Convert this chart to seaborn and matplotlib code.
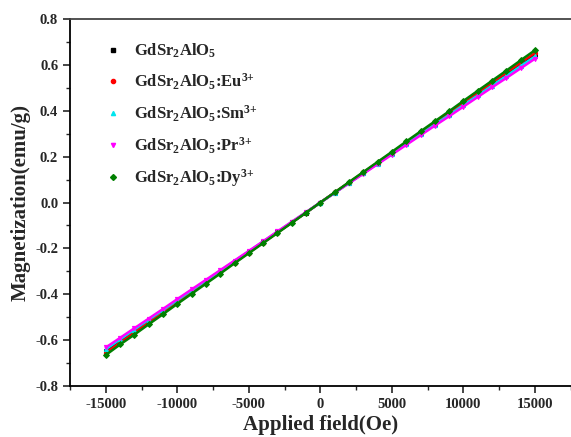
import matplotlib
matplotlib.use("Agg")
import matplotlib.pyplot as plt
import seaborn as sns
import pandas as pd
from matplotlib.lines import Line2D
from matplotlib.ticker import MultipleLocator

sns.set_theme(style="ticks")
plt.rcParams['font.family'] = ['Liberation Serif', 'DejaVu Serif']
plt.rcParams['font.weight'] = 'bold'
plt.rcParams['mathtext.fontset'] = 'custom'
plt.rcParams['mathtext.rm'] = 'Liberation Serif:bold'
plt.rcParams['mathtext.bf'] = 'Liberation Serif:bold'
plt.rcParams['mathtext.default'] = 'rm'
plt.rcParams['axes.unicode_minus'] = False

field = [-15000, -14000, -13000, -12000, -11000, -10000, -9000, -8000, -7000, -6000,
         -5000, -4000, -3000, -2000, -1000, 0, 1000, 2000, 3000, 4000, 5000, 6000,
         7000, 8000, 9000, 10000, 11000, 12000, 13000, 14000, 15000]

m_undoped = [-0.648, -0.604, -0.561, -0.517, -0.474, -0.431, -0.388, -0.345, -0.302, -0.259,
             -0.216, -0.173, -0.130, -0.087, -0.044, 0.000, 0.043, 0.086, 0.129, 0.172,
             0.215, 0.258, 0.301, 0.344, 0.387, 0.430, 0.473, 0.516, 0.559, 0.602, 0.645]
m_eu = [-0.655, -0.611, -0.567, -0.523, -0.480, -0.436, -0.392, -0.349, -0.305, -0.262,
        -0.218, -0.175, -0.131, -0.087, -0.044, 0.000, 0.044, 0.087, 0.131, 0.174,
        0.218, 0.261, 0.305, 0.348, 0.392, 0.435, 0.479, 0.522, 0.566, 0.609, 0.652]
m_sm = [-0.640, -0.597, -0.554, -0.511, -0.469, -0.426, -0.383, -0.341, -0.298, -0.255,
        -0.213, -0.170, -0.128, -0.085, -0.043, 0.000, 0.042, 0.085, 0.127, 0.170,
        0.212, 0.255, 0.297, 0.340, 0.382, 0.425, 0.467, 0.510, 0.552, 0.595, 0.637]
m_pr = [-0.632, -0.590, -0.548, -0.506, -0.464, -0.421, -0.379, -0.337, -0.295, -0.253,
        -0.211, -0.169, -0.126, -0.084, -0.042, 0.000, 0.042, 0.084, 0.125, 0.167,
        0.209, 0.251, 0.293, 0.335, 0.376, 0.418, 0.460, 0.502, 0.543, 0.585, 0.627]
m_dy = [-0.665, -0.619, -0.576, -0.531, -0.487, -0.442, -0.398, -0.354, -0.310, -0.265,
        -0.221, -0.177, -0.133, -0.089, -0.044, 0.000, 0.044, 0.089, 0.133, 0.177,
        0.221, 0.266, 0.310, 0.354, 0.398, 0.443, 0.487, 0.531, 0.575, 0.620, 0.664]

labels = [r'GdSr$_2$AlO$_5$', r'GdSr$_2$AlO$_5$:Eu$^{3{+}}$', r'GdSr$_2$AlO$_5$:Sm$^{3{+}}$',
          r'GdSr$_2$AlO$_5$:Pr$^{3{+}}$', r'GdSr$_2$AlO$_5$:Dy$^{3{+}}$']
series = [m_undoped, m_eu, m_sm, m_pr, m_dy]
colors = ['black', '#ff0000', '#00e5ee', '#ff00ff', '#008000']
markers = ['s', 'o', '^', 'v', 'D']

fig = plt.figure(figsize=(5.71, 4.37), dpi=100)
ax = fig.add_axes([0.1226, 0.1167, 0.877, 0.8398])

for lab, ys, c, mk in zip(labels, series, colors, markers):
    df = pd.DataFrame({'H': field, 'M': ys})
    sns.lineplot(data=df, x='H', y='M', ax=ax, color=c, marker=mk, markersize=3,
                 markeredgecolor=c, linewidth=1.8, legend=False)

ax.set_xlim(-17500, 17500)
ax.set_ylim(-0.8, 0.8)
ax.xaxis.set_major_locator(MultipleLocator(5000))
ax.xaxis.set_minor_locator(MultipleLocator(2500))
ax.yaxis.set_major_locator(MultipleLocator(0.2))
ax.yaxis.set_minor_locator(MultipleLocator(0.1))
ax.yaxis.set_major_formatter(matplotlib.ticker.FormatStrFormatter('%.1f'))
ax.tick_params(which='major', direction='out', length=5, width=1.2, labelsize=10.5)
ax.tick_params(which='minor', direction='out', length=3, width=1.0)
for lbl in ax.get_xticklabels() + ax.get_yticklabels():
    lbl.set_fontweight('bold')

for s in ['left', 'bottom']:
    ax.spines[s].set_linewidth(1.3)
    ax.spines[s].set_color('black')
ax.spines['top'].set_linewidth(1.3)
ax.spines['top'].set_color('#444444')
ax.spines['right'].set_visible(False)

ax.set_xlabel('Applied field(Oe)', fontsize=15, fontweight='bold', labelpad=3)
ax.set_ylabel('Magnetization(emu/g)', fontsize=15, fontweight='bold', labelpad=3)

handles = [Line2D([], [], color=c, marker=mk, linestyle='none', markersize=3)
           for c, mk in zip(colors, markers)]
leg = ax.legend(handles, labels, loc='upper left', bbox_to_anchor=(0.035, 0.98),
                frameon=False, fontsize=12, labelspacing=0.7, handletextpad=0.7,
                handlelength=1.2)
for t in leg.get_texts():
    t.set_fontweight('bold')

fig.savefig('out.png', dpi=100)
